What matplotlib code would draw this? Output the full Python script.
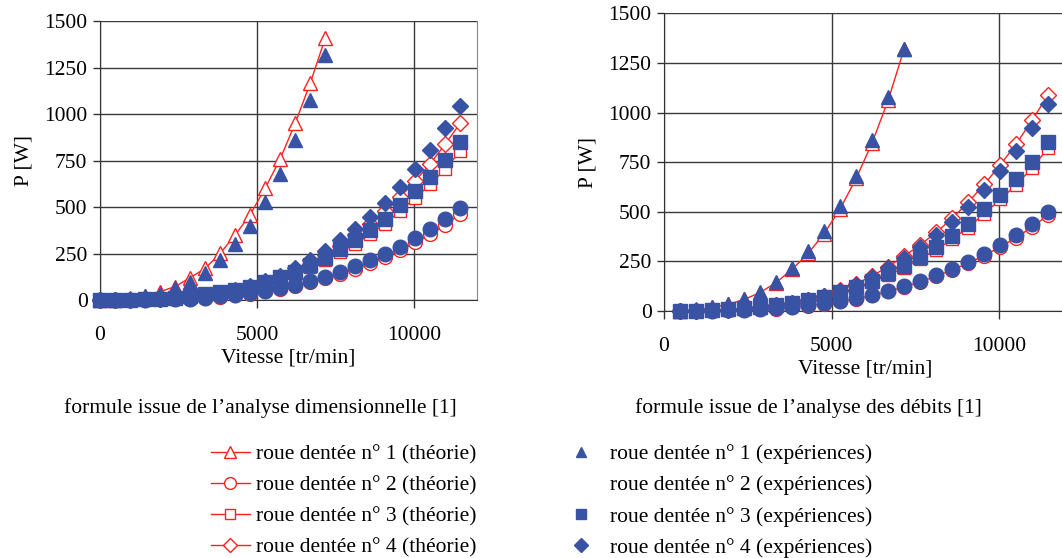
import matplotlib
matplotlib.use('Agg')
import matplotlib.pyplot as plt
from matplotlib.lines import Line2D

plt.rcParams['font.family'] = ['Liberation Serif', 'DejaVu Serif']
plt.rcParams['font.size'] = 15.5

# vitesses [tr/min]
speeds = [0, 478, 956, 1434, 1912, 2390, 2868, 3346, 3824, 4302, 4780, 5258, 5736,
          6214, 6692, 7170, 7648, 8126, 8604, 9082, 9560, 10038, 10516, 10994, 11472]

# experiences (memes mesures sur les deux graphes)
exp1 = [0, 2, 8, 20, 35, 62, 97, 148, 218, 300, 401, 528, 681, 860, 1077, 1322]
exp2 = [0, 0, 1, 2, 3, 5, 8, 13, 20, 28, 38, 50, 64, 82, 102, 126, 151, 181, 213,
        249, 287, 333, 381, 437, 497]
exp3 = [0, 1, 2, 4, 8, 13, 20, 30, 42, 55, 72, 97, 123, 151, 190, 227, 274, 321,
        378, 438, 512, 585, 663, 752, 853]
exp4 = [0, 0, 1, 3, 6, 11, 18, 28, 40, 55, 75, 100, 131, 170, 215, 265, 321, 383,
        449, 524, 610, 705, 808, 924, 1045]

# theorie - analyse dimensionnelle
dim1 = [0, 2, 9, 24, 45, 72, 120, 170, 251, 350, 460, 602, 760, 952, 1168, 1410]
dim2 = [0, 0, 1, 2, 3, 5, 7, 12, 18, 26, 35, 46, 60, 76, 95, 117, 140, 168, 198,
        231, 267, 310, 354, 406, 465]
dim3 = [0, 1, 2, 4, 7, 12, 19, 28, 39, 52, 68, 91, 116, 142, 179, 213, 258, 302,
        355, 412, 481, 550, 623, 707, 802]
dim4 = [0, 0, 1, 3, 5, 10, 16, 25, 36, 50, 68, 91, 119, 155, 196, 241, 292, 349,
        409, 477, 555, 642, 735, 841, 954]

# theorie - analyse des debits
deb1 = [0, 1, 6, 18, 33, 58, 93, 143, 210, 290, 390, 515, 668, 848, 1062, 1322]
deb2 = [0, 0, 1, 2, 3, 5, 8, 12, 19, 27, 37, 48, 62, 79, 99, 122, 147, 176, 207,
        242, 279, 323, 370, 424, 484]
deb3 = [0, 1, 2, 4, 7, 12, 19, 28, 40, 53, 69, 93, 118, 145, 182, 218, 263, 308,
        363, 420, 491, 562, 636, 722, 822]
deb4 = [0, 0, 1, 3, 6, 12, 19, 29, 42, 57, 78, 104, 137, 177, 224, 277, 333, 396,
        467, 548, 638, 736, 842, 963, 1090]

labels_th = ['roue dentée n° 1 (théorie)', 'roue dentée n° 2 (théorie)',
             'roue dentée n° 3 (théorie)', 'roue dentée n° 4 (théorie)']
labels_exp = ['roue dentée n° 1 (expériences)', 'roue dentée n° 2 (expériences)',
              'roue dentée n° 3 (expériences)', 'roue dentée n° 4 (expériences)']
captions = ['formule issue de l\u2019analyse dimensionnelle [1]',
            'formule issue de l\u2019analyse des débits [1]']

blue = '#3953a4'
red = '#ff2020'
markers = ['^', 'o', 's', 'D']
ms_exp = [10.5, 10.5, 10, 8.5]
ms_th = [10.5, 10, 9, 8]

fig = plt.figure(figsize=(10.62, 5.58), dpi=100)
ax1 = fig.add_axes([100 / 1062, 1 - 300 / 558, 377 / 1062, 278.5 / 558])
ax2 = fig.add_axes([664 / 1062, 1 - 311 / 558, 402 / 1062, 297.7 / 558])


def draw(ax, theory, start):
    exps = [exp1, exp2, exp3, exp4]
    for i in range(4):
        th = theory[i]
        ax.plot(speeds[start:len(th)], th[start:], color=red, lw=1, marker=markers[i],
                ms=ms_th[i], mfc='white', mec=red, mew=1, zorder=3, clip_on=False)
    for i in range(4):
        ex = exps[i]
        ax.plot(speeds[start:len(ex)], ex[start:], linestyle='none', marker=markers[i],
                ms=ms_exp[i], mfc=blue, mec=blue, zorder=4, clip_on=False)
    ax.set_xlim(0, 12000)
    ax.set_ylim(0, 1500)
    ax.set_xticks([0, 5000, 10000])
    ax.set_yticks([0, 250, 500, 750, 1000, 1250, 1500])
    ax.grid(True, color='#3a3a3a', lw=1)
    ax.set_axisbelow(True)
    ax.spines['top'].set_visible(False)
    ax.spines['right'].set_color('#888888')
    ax.spines['left'].set_color('#333333')
    ax.spines['bottom'].set_color('#333333')
    ax.tick_params(axis='x', length=6, width=1, pad=13, color='#333333')
    ax.tick_params(axis='y', length=5, width=1, pad=4, color='#333333')
    ax.set_xlabel('Vitesse [tr/min]', labelpad=2)
    ax.set_ylabel('P [W]', labelpad=8)


draw(ax1, [dim1, dim2, dim3, dim4], 0)
draw(ax2, [deb1, deb2, deb3, deb4], 1)

fig.text(260 / 1062, 1 - 408 / 558, captions[0], ha='center', va='center')
fig.text(808 / 1062, 1 - 408 / 558, captions[1], ha='center', va='center')

h_th = [Line2D([], [], color=red, lw=1, marker=markers[i], ms=ms_th[i] * 0.85,
               mfc='white', mec=red) for i in range(4)]
h_exp = [Line2D([], [], linestyle='none', marker=markers[i], ms=7, mfc=blue, mec=blue)
         for i in range(4)]
h_exp[1] = Line2D([], [], linestyle='none')

fig.legend(h_th, labels_th, loc='upper left', bbox_to_anchor=(211 / 1062, 1 - 444 / 558),
           frameon=False, borderpad=0, borderaxespad=0, handlelength=1.8,
           handletextpad=0.3, labelspacing=0.52)
fig.legend(h_exp, labels_exp, loc='upper left', bbox_to_anchor=(566 / 1062, 1 - 444 / 558),
           frameon=False, borderpad=0, borderaxespad=0, handlelength=1.4,
           handletextpad=0.65, labelspacing=0.52)

fig.savefig('out.png', dpi=100)
